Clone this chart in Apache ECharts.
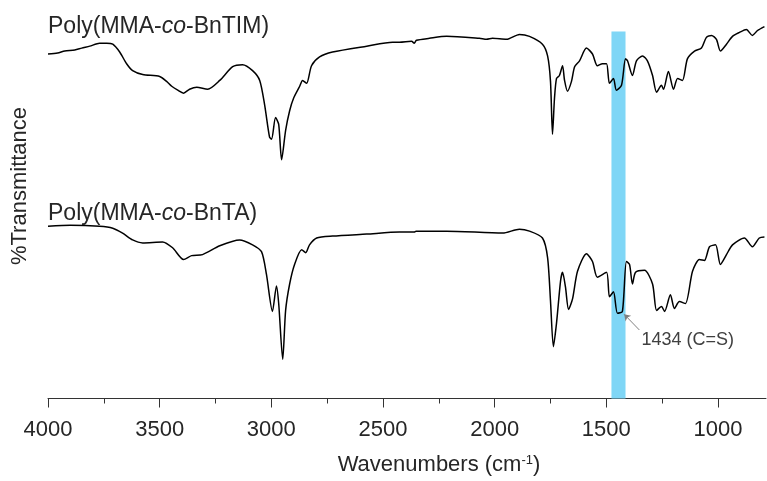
<!DOCTYPE html>
<html>
<head>
<meta charset="utf-8">
<script src="https://cdn.jsdelivr.net/npm/echarts@6/dist/echarts.min.js"></script>
<style>
  html, body { margin: 0; padding: 0; background: #fff; }
</style>
</head>
<body>
<div id="main" style="width: 767px;height:481px;"></div>
<script>
// wavenumbers (cm-1) and transmittance (offset, arbitrary units)
const topWn = [4000, 3957, 3925, 3880, 3849, 3813, 3769, 3737, 3710, 3679,
  3648, 3621, 3576, 3500, 3469, 3446, 3419, 3393, 3366, 3334,
  3285, 3231, 3173, 3129, 3084, 3052, 3030, 3008, 2999, 2981,
  2967, 2954, 2936, 2918, 2900, 2873, 2860, 2842, 2820, 2784,
  2726, 2573, 2457, 2426, 2372, 2360, 2350, 2292, 2215, 2068,
  2036, 2010, 1947, 1889, 1844, 1786, 1763, 1750, 1741, 1732,
  1723, 1710, 1696, 1687, 1674, 1656, 1642, 1620, 1589, 1562,
  1540, 1517, 1499, 1486, 1468, 1455, 1432, 1414, 1405, 1383,
  1365, 1338, 1316, 1293, 1275, 1253, 1244, 1222, 1199, 1181,
  1159, 1137, 1105, 1074, 1052, 1029, 1007, 989, 962, 935,
  904, 873, 846, 823, 792]
const topT = [352, 353, 355, 356, 358, 360, 363, 363, 362, 354,
  342, 335, 331, 329, 324, 319, 315, 312, 316, 318,
  316, 325, 339, 341, 335, 325, 300, 267, 265, 287,
  280, 244, 274, 294, 307, 319, 325, 322, 340, 349,
  354, 360, 364, 364, 365, 363, 366, 368, 370, 368,
  367, 368, 367, 372, 370, 362, 350, 324, 270, 307,
  327, 330, 340, 325, 314, 324, 339, 345, 358, 352,
  340, 342, 342, 322, 327, 315, 320, 347, 345, 330,
  345, 350, 345, 330, 313, 320, 316, 334, 316, 327,
  325, 347, 355, 358, 369, 371, 367, 355, 362, 370,
  374, 377, 371, 376, 380]

const bottomWn = [4000, 3900, 3769, 3710, 3666, 3621, 3576, 3487, 3442, 3393,
  3357, 3308, 3231, 3142, 3084, 3044, 3022, 2995, 2977, 2967,
  2949, 2936, 2918, 2896, 2864, 2846, 2829, 2797, 2726, 2573,
  2426, 2360, 2352, 2215, 1964, 1889, 1844, 1786, 1763, 1750,
  1737, 1723, 1705, 1696, 1683, 1669, 1651, 1629, 1589, 1562,
  1540, 1499, 1486, 1468, 1450, 1428, 1410, 1396, 1383, 1369,
  1329, 1293, 1275, 1253, 1239, 1213, 1195, 1173, 1146, 1114,
  1083, 1061, 1038, 1011, 989, 962, 935, 882, 846, 815,
  792]
const bottomT = [176, 177, 176, 174, 169, 162, 159, 160, 154, 142,
  146, 147, 156, 162, 157, 150, 127, 89, 115, 97,
  40, 90, 117, 137, 152, 149, 157, 164, 166, 168,
  170, 170, 171, 171, 169, 173, 171, 164, 144, 100,
  53, 77, 120, 129, 114, 91, 102, 130, 148, 140,
  124, 129, 104, 109, 87, 89, 140, 137, 117, 129,
  131, 117, 90, 94, 89, 106, 92, 99, 97, 130,
  142, 141, 155, 157, 137, 147, 157, 164, 155, 164,
  165]

const majorTicks = [4000, 3500, 3000, 2500, 2000, 1500, 1000]
const minorTicks = [3750, 3250, 2750, 2250, 1750, 1250]
const band = [1414, 1477] // C=S region
const bandTop = 375
const peakLabel = '1434 (C=S)'
const arrowFrom = [1352, 70]
const arrowTo = [1420, 86]
const labelAt = [1343, 60]

const FONT = '"Liberation Sans", Arial, Helvetica, sans-serif'
const TXT = '#262626'

const pairs = (xs, ys) => xs.map((x, i) => [x, ys[i]])

const titleStyle = {
  fontFamily: FONT, fontSize: 23, fontWeight: 'normal', color: TXT,
  rich: { i: { fontFamily: FONT, fontSize: 23, fontStyle: 'italic', color: TXT } }
}

const option = {
  animation: false,
  grid: { left: 48, right: 1, top: 7, bottom: 74 },
  title: [
    { text: 'Poly(MMA-{i|co}-BnTIM)', left: 48, top: 15, padding: 0, textStyle: titleStyle },
    { text: 'Poly(MMA-{i|co}-BnTA)', left: 48, top: 202, padding: 0, textStyle: titleStyle }
  ],
  xAxis: [
    {
      type: 'value',
      min: 785,
      max: 4000,
      inverse: true,
      position: 'bottom',
      axisLine: { show: true, onZero: false, lineStyle: { color: '#333', width: 1 } },
      axisTick: { show: true, customValues: majorTicks, length: 9, lineStyle: { color: '#333' } },
      axisLabel: {
        customValues: majorTicks,
        formatter: v => String(v),
        margin: 20,
        fontFamily: FONT,
        fontSize: 22,
        color: TXT
      },
      splitLine: { show: false },
      name: 'Wavenumbers (cm{sup|-1})',
      nameLocation: 'middle',
      nameGap: 55,
      nameTextStyle: {
        fontFamily: FONT,
        fontSize: 22,
        color: TXT,
        padding: [0, 0, 0, 64],
        rich: { sup: { fontFamily: FONT, fontSize: 13, color: TXT, verticalAlign: 'top', padding: [0, 0, 10, 0] } }
      }
    },
    {
      // minor ticks only
      type: 'value',
      min: 785,
      max: 4000,
      inverse: true,
      position: 'bottom',
      axisLine: { show: false, onZero: false },
      axisTick: { show: true, customValues: minorTicks, length: 5, lineStyle: { color: '#333' } },
      axisLabel: { show: false },
      splitLine: { show: false }
    }
  ],
  yAxis: {
    type: 'value',
    min: 0,
    max: 400,
    show: false
  },
  graphic: [
    {
      type: 'text',
      x: 20,
      y: 186,
      rotation: Math.PI / 2,
      style: {
        text: '%Transmittance',
        font: '22px ' + FONT,
        fill: TXT,
        align: 'center',
        verticalAlign: 'middle'
      }
    }
  ],
  series: [
    {
      type: 'line',
      data: [],
      z: 1,
      markArea: {
        silent: true,
        itemStyle: { color: '#7fd6f6', opacity: 1 },
        data: [[{ xAxis: band[1], yAxis: bandTop }, { xAxis: band[0], yAxis: 0 }]]
      }
    },
    {
      name: 'Poly(MMA-co-BnTIM)',
      type: 'line',
      z: 3,
      data: pairs(topWn, topT),
      showSymbol: false,
      smooth: 0.25,
      lineStyle: { color: '#000', width: 1.5 }
    },
    {
      name: 'Poly(MMA-co-BnTA)',
      type: 'line',
      z: 3,
      data: pairs(bottomWn, bottomT),
      showSymbol: false,
      smooth: 0.25,
      lineStyle: { color: '#000', width: 1.5 },
      markLine: {
        silent: true,
        symbol: ['none', 'arrow'],
        symbolSize: 6,
        label: { show: false },
        lineStyle: { color: '#808080', width: 1, type: 'solid' },
        data: [[{ coord: arrowFrom }, { coord: arrowTo }]]
      },
      markPoint: {
        silent: true,
        symbol: 'circle',
        symbolSize: 0,
        data: [{
          coord: labelAt,
          label: {
            show: true,
            position: 'right',
            distance: 0,
            formatter: peakLabel,
            fontFamily: FONT,
            fontSize: 18,
            color: '#404040'
          }
        }]
      }
    }
  ]
}

const myChart = echarts.init(document.getElementById('main'))
myChart.setOption(option)
</script>
</body>
</html>
